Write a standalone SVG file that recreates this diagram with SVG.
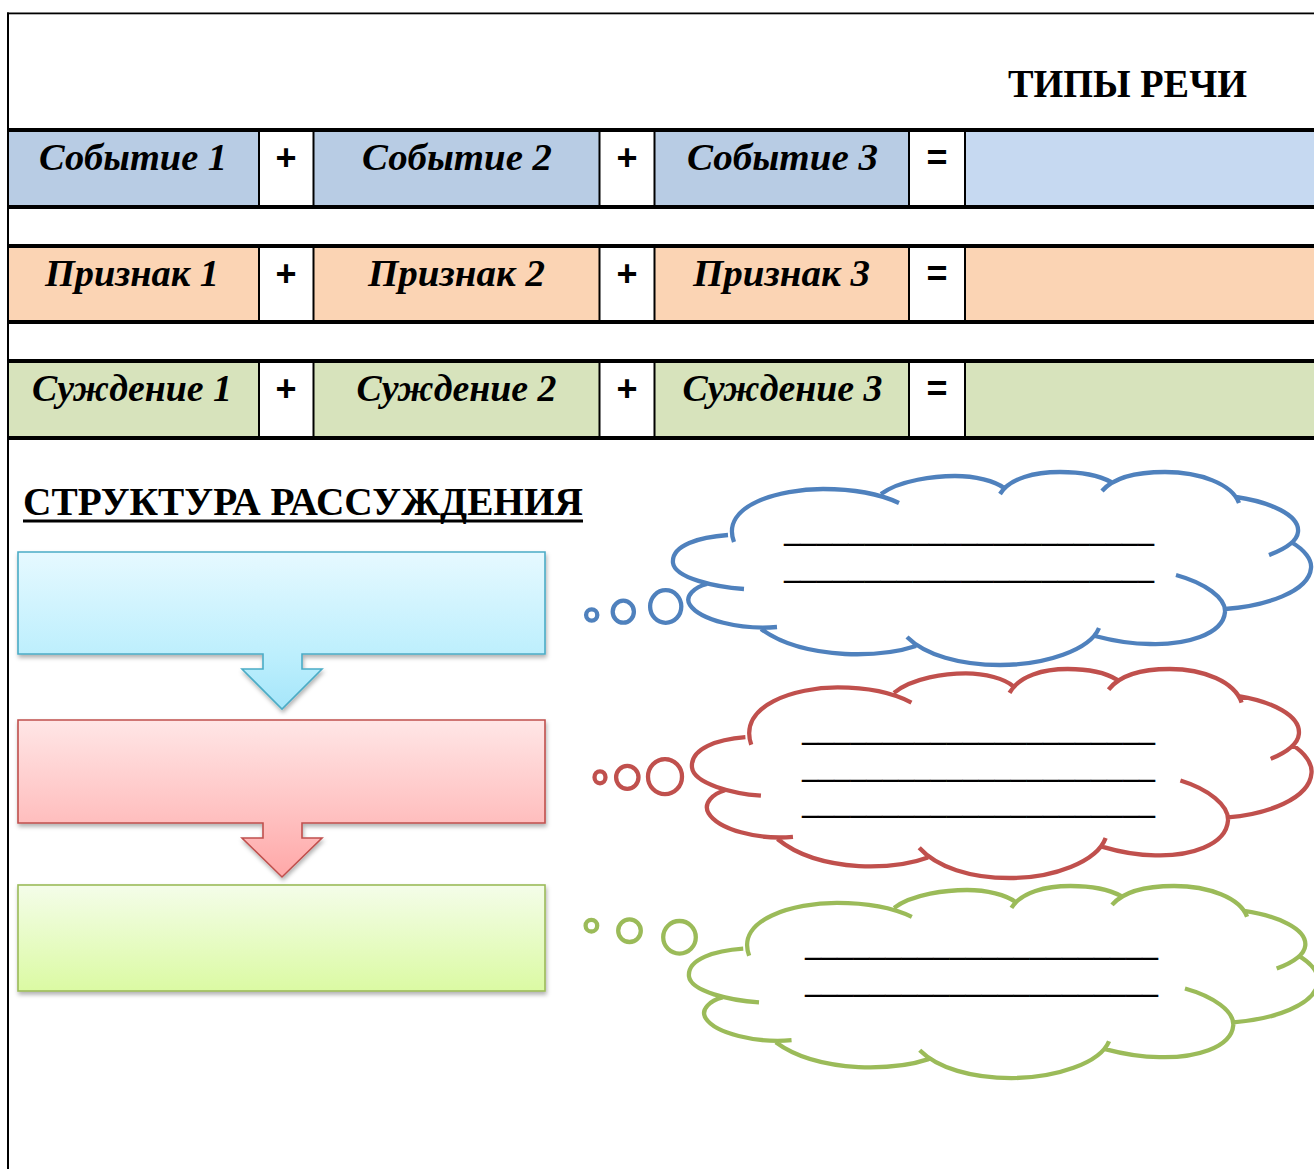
<svg xmlns="http://www.w3.org/2000/svg" xmlns:xlink="http://www.w3.org/1999/xlink" width="1314" height="1169" viewBox="0 0 1314 1169">
<style>
.cell{font-family:"Liberation Serif","Times New Roman",serif;font-weight:bold;font-style:italic;font-size:37px;fill:#000;text-anchor:middle}
.op{font-family:"Liberation Sans",Arial,sans-serif;font-weight:bold;font-size:36px;fill:#000;text-anchor:middle}
.head{font-family:"Liberation Serif","Times New Roman",serif;font-weight:bold;font-size:39px;fill:#000}
.line{font-family:"Liberation Serif","Times New Roman",serif;font-weight:bold;font-size:32px;fill:#000;stroke:none}
.rule{fill:#000}
</style>
<defs>
<linearGradient id="gBlue" x1="0" y1="0" x2="0" y2="1"><stop offset="0" stop-color="#E6F9FF"/><stop offset="0.65" stop-color="#BDEFFD"/><stop offset="1" stop-color="#A6E6FA"/></linearGradient>
<linearGradient id="gRed" x1="0" y1="0" x2="0" y2="1"><stop offset="0" stop-color="#FFE6E6"/><stop offset="0.65" stop-color="#FFBEBE"/><stop offset="1" stop-color="#FFA8A8"/></linearGradient>
<linearGradient id="gGreen" x1="0" y1="0" x2="0" y2="1"><stop offset="0" stop-color="#F4FDE9"/><stop offset="1" stop-color="#DBFAA3"/></linearGradient>
<filter id="sh" x="-5%" y="-10%" width="110%" height="130%"><feDropShadow dx="1" dy="3" stdDeviation="2" flood-color="#000" flood-opacity="0.3"/></filter>
<path id="cloudShape" fill="none" vector-effect="non-scaling-stroke" d="M734,542 C720,505 780,489 823,489 C855,489 882,495 899,503
M881,494 C900,480 935,476 955,476 C975,476 995,481 1004,488
M1000,494 C1010,478 1035,472 1060,472 C1082,472 1100,476 1111,482
M1102,491 C1115,476 1140,472 1165,472 C1200,472 1232,484 1239,503
M1236,497 C1270,502 1300,515 1298,532 C1297,542 1285,549 1269,555
M1291,542 C1305,550 1312,560 1311,568 C1309,592 1265,606 1225,609
M1176,575 C1205,583 1226,598 1225,612 C1223,635 1185,645 1150,644 C1130,644 1110,640 1095,636
M1099,628 C1090,650 1045,665 1000,665 C960,665 925,655 907,637
M916,646 C895,653 870,655 845,654 C810,652 780,643 761,629
M777,627 C740,630 700,620 690,605 C684,596 695,587 707,584
M744,589 C715,587 675,578 673,563 C671,545 700,537 728,535"/>
</defs>

<rect x="0" y="0" width="1314" height="1169" fill="#fff"/>

<g id="frame">
<rect x="7" y="12.5" width="1307" height="1.8" class="rule"/>
<rect x="7" y="12.5" width="2" height="1157" class="rule"/>
</g>

<g id="title">
<text class="head" x="1008" y="97" textLength="239" lengthAdjust="spacingAndGlyphs">ТИПЫ РЕЧИ</text>
</g>

<g id="row-events">
<rect x="9" y="132" width="1305" height="73" fill="#B8CCE4"/>
<rect x="965" y="132" width="349" height="73" fill="#C6D9F1"/>
<rect x="259" y="132" width="54.5" height="73" fill="#fff"/>
<rect x="599.5" y="132" width="55" height="73" fill="#fff"/>
<rect x="909" y="132" width="56" height="73" fill="#fff"/>
<rect x="7" y="128" width="1307" height="4" class="rule"/>
<rect x="7" y="205" width="1307" height="4" class="rule"/>
<rect x="258" y="132" width="2" height="73" class="rule"/>
<rect x="312.5" y="132" width="2" height="73" class="rule"/>
<rect x="598.5" y="132" width="2" height="73" class="rule"/>
<rect x="653.5" y="132" width="2" height="73" class="rule"/>
<rect x="908" y="132" width="2" height="73" class="rule"/>
<rect x="964" y="132" width="2" height="73" class="rule"/>
<text class="cell" x="133" y="170" textLength="188" lengthAdjust="spacingAndGlyphs">Событие 1</text>
<text class="op" x="286" y="170">+</text>
<text class="cell" x="457" y="170" textLength="190" lengthAdjust="spacingAndGlyphs">Событие 2</text>
<text class="op" x="627" y="170">+</text>
<text class="cell" x="782.5" y="170" textLength="191" lengthAdjust="spacingAndGlyphs">Событие 3</text>
<text class="op" x="937" y="170">=</text>
</g>

<g id="row-signs">
<rect x="9" y="248" width="1305" height="72" fill="#FBD4B4"/>
<rect x="259" y="248" width="54.5" height="72" fill="#fff"/>
<rect x="599.5" y="248" width="55" height="72" fill="#fff"/>
<rect x="909" y="248" width="56" height="72" fill="#fff"/>
<rect x="7" y="244" width="1307" height="4" class="rule"/>
<rect x="7" y="320" width="1307" height="4" class="rule"/>
<rect x="258" y="248" width="2" height="72" class="rule"/>
<rect x="312.5" y="248" width="2" height="72" class="rule"/>
<rect x="598.5" y="248" width="2" height="72" class="rule"/>
<rect x="653.5" y="248" width="2" height="72" class="rule"/>
<rect x="908" y="248" width="2" height="72" class="rule"/>
<rect x="964" y="248" width="2" height="72" class="rule"/>
<text class="cell" x="132" y="286" textLength="174" lengthAdjust="spacingAndGlyphs">Признак 1</text>
<text class="op" x="286" y="286">+</text>
<text class="cell" x="456.5" y="286" textLength="177" lengthAdjust="spacingAndGlyphs">Признак 2</text>
<text class="op" x="627" y="286">+</text>
<text class="cell" x="781.5" y="286" textLength="177" lengthAdjust="spacingAndGlyphs">Признак 3</text>
<text class="op" x="937" y="286">=</text>
</g>

<g id="row-judgements">
<rect x="9" y="363" width="1305" height="73" fill="#D7E3BC"/>
<rect x="259" y="363" width="54.5" height="73" fill="#fff"/>
<rect x="599.5" y="363" width="55" height="73" fill="#fff"/>
<rect x="909" y="363" width="56" height="73" fill="#fff"/>
<rect x="7" y="359" width="1307" height="4" class="rule"/>
<rect x="7" y="436" width="1307" height="4" class="rule"/>
<rect x="258" y="363" width="2" height="73" class="rule"/>
<rect x="312.5" y="363" width="2" height="73" class="rule"/>
<rect x="598.5" y="363" width="2" height="73" class="rule"/>
<rect x="653.5" y="363" width="2" height="73" class="rule"/>
<rect x="908" y="363" width="2" height="73" class="rule"/>
<rect x="964" y="363" width="2" height="73" class="rule"/>
<text class="cell" x="132" y="401" textLength="200" lengthAdjust="spacingAndGlyphs">Суждение 1</text>
<text class="op" x="286" y="401">+</text>
<text class="cell" x="456.5" y="401" textLength="200" lengthAdjust="spacingAndGlyphs">Суждение 2</text>
<text class="op" x="627" y="401">+</text>
<text class="cell" x="782.5" y="401" textLength="200" lengthAdjust="spacingAndGlyphs">Суждение 3</text>
<text class="op" x="937" y="401">=</text>
</g>

<g id="structure-title">
<text class="head" x="23" y="515" textLength="560" lengthAdjust="spacingAndGlyphs">СТРУКТУРА РАССУЖДЕНИЯ</text>
<rect x="23" y="519.5" width="560" height="3" class="rule"/>
</g>

<g id="box-thesis">
<path d="M18,552 H545 V654 H302 V669 H322 L282,709 L242,669 H263 V654 H18 Z" fill="url(#gBlue)" stroke="#4BACC6" stroke-width="1.6" filter="url(#sh)"/>
</g>
<g id="box-arguments">
<path d="M18,720 H545 V823 H302 V838 H322 L282,877 L242,838 H263 V823 H18 Z" fill="url(#gRed)" stroke="#C0504D" stroke-width="1.6" filter="url(#sh)"/>
</g>
<g id="box-conclusion">
<rect x="18" y="885" width="527" height="106" fill="url(#gGreen)" stroke="#9BBB59" stroke-width="1.6" filter="url(#sh)"/>
</g>

<g id="cloud-blue" fill="none" stroke="#4F81BD" stroke-width="4.3">
<use xlink:href="#cloudShape" href="#cloudShape"/>
<ellipse cx="591.7" cy="615" rx="5.6" ry="5.6"/>
<ellipse cx="623.3" cy="611.7" rx="10.6" ry="11"/>
<ellipse cx="665.7" cy="606.5" rx="15.6" ry="16.3"/>
<text class="line" x="784" y="542" textLength="370" lengthAdjust="spacingAndGlyphs">_______________________</text>
<text class="line" x="784" y="579" textLength="370" lengthAdjust="spacingAndGlyphs">_______________________</text>
</g>

<g id="cloud-red" fill="none" stroke="#C0504D" stroke-width="4.3">
<use xlink:href="#cloudShape" href="#cloudShape" transform="translate(692,669) scale(0.971,1.083) translate(-673,-472)"/>
<ellipse cx="600" cy="777.3" rx="5.5" ry="6"/>
<ellipse cx="627.3" cy="777.3" rx="11.2" ry="11.5"/>
<ellipse cx="665" cy="776.7" rx="17" ry="17.5"/>
<text class="line" x="802" y="741" textLength="353" lengthAdjust="spacingAndGlyphs">______________________</text>
<text class="line" x="802" y="777.7" textLength="353" lengthAdjust="spacingAndGlyphs">______________________</text>
<text class="line" x="802" y="814.3" textLength="353" lengthAdjust="spacingAndGlyphs">______________________</text>
</g>

<g id="cloud-green" fill="none" stroke="#9BBB59" stroke-width="4.3">
<use xlink:href="#cloudShape" href="#cloudShape" transform="translate(689,886) scale(0.986,0.995) translate(-673,-472)"/>
<ellipse cx="591.4" cy="925.7" rx="5.8" ry="5.8"/>
<ellipse cx="629.5" cy="930.7" rx="11.3" ry="11.3"/>
<ellipse cx="679.5" cy="937.3" rx="16.3" ry="16.3"/>
<text class="line" x="805" y="956" textLength="353" lengthAdjust="spacingAndGlyphs">______________________</text>
<text class="line" x="805" y="993" textLength="353" lengthAdjust="spacingAndGlyphs">______________________</text>
</g>
</svg>
